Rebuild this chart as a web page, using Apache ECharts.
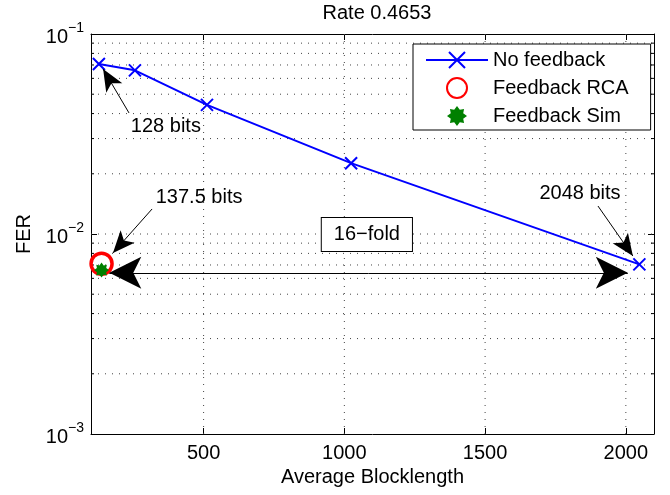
<!DOCTYPE html>
<html>
<head>
<meta charset="utf-8">
<script src="https://cdn.jsdelivr.net/npm/echarts@6/dist/echarts.min.js"></script>
<style>
  html, body { margin: 0; padding: 0; background: #fff; }
  #chart { width: 670px; height: 495px; }
</style>
</head>
<body>
<div id="chart"></div>
<script>
// data
const blocklength = [128, 256, 512, 1024, 2048];
const ferNoFeedback = [0.0708, 0.0658, 0.0442, 0.0226, 0.00705];
const rcaPoint = [137.5, 0.0071];
const simPoint = [137.5, 0.0066];

// axes
const xTicks = [500, 1000, 1500, 2000];
const yTicks = [0.001, 0.01, 0.1];
const yMinor = [0.002, 0.003, 0.004, 0.005, 0.006, 0.007, 0.008, 0.009,
                0.02, 0.03, 0.04, 0.05, 0.06, 0.07, 0.08, 0.09];

// annotations (data coordinates)
const noteTexts = ['128 bits', '137.5 bits', '2048 bits'];
const notePos = [[366, 0.0343], [484, 0.0153], [1837, 0.0160]];
const pointerFrom = [[235, 0.0403], [317, 0.01334], [1901, 0.0138]];
const pointerTo = [[143, 0.0668], [178, 0.00804], [2025, 0.00776]];
const foldFrom = [165, 0.0064];
const foldTo = [2007, 0.0064];
const foldText = '16−fold';
const foldPos = [1080, 0.00994];

const FONT = '"Liberation Sans", Arial, Helvetica, sans-serif';
const X_MIN = 100, X_MAX = 2100, Y_MIN = 0.001, Y_MAX = 0.1;

const chart = echarts.init(document.getElementById('chart'));

const dotted = { stroke: '#444', lineWidth: 1, lineDash: [1, 6] };

// dotted grid and minor ticks, drawn through the axes scales
function renderGrid(params, api) {
  const children = [];
  const line = (a, b, style) => ({
    type: 'line',
    shape: { x1: a[0], y1: a[1], x2: b[0], y2: b[1] },
    style: style
  });
  xTicks.forEach(x => {
    children.push(line(api.coord([x, Y_MIN]), api.coord([x, Y_MAX]), dotted));
  });
  yMinor.concat([0.01]).forEach(y => {
    children.push(line(api.coord([X_MIN, y]), api.coord([X_MAX, y]), dotted));
  });
  yMinor.forEach(y => {
    const l = api.coord([X_MIN, y]);
    const r = api.coord([X_MAX, y]);
    children.push(line(l, [l[0] + 3, l[1]], { stroke: '#000', lineWidth: 1 }));
    children.push(line([r[0] - 3, r[1]], r, { stroke: '#000', lineWidth: 1 }));
  });
  return { type: 'group', children: children };
}

const xMark = 'path://M0,0L10,10M10,0L0,10';
const starMark = 'path://M20,10L16.2,12.8L17.07,17.07L12.8,16.2L10,20L7.2,16.2L2.93,17.07L3.8,12.8L0,10L3.8,7.2L2.93,2.93L7.2,3.8L10,0L12.8,3.8L17.07,2.93L16.2,7.2Z';

const axisLineStyle = { color: '#000', width: 1 };
const tickStyle = { show: true, inside: true, length: 6, lineStyle: { color: '#000' } };

const option = {
  animation: false,
  textStyle: { fontFamily: FONT },
  title: {
    text: 'Rate 0.4653',
    left: 372,
    top: -2,
    textAlign: 'center',
    textStyle: { fontFamily: FONT, fontSize: 20, fontWeight: 'normal', color: '#000' }
  },
  grid: { left: 91, right: 16, top: 34, bottom: 61, show: false },
  legend: {
    left: 413,
    top: 44,
    orient: 'vertical',
    backgroundColor: '#fff',
    borderColor: '#000',
    borderWidth: 1,
    padding: [6, 22, 4, 12],
    itemWidth: 62,
    itemHeight: 20,
    itemGap: 7,
    textStyle: { fontFamily: FONT, fontSize: 20, color: '#000' },
    data: ['No feedback', 'Feedback RCA', 'Feedback Sim']
  },
  xAxis: [
    {
      type: 'value', min: X_MIN, max: X_MAX,
      name: 'Average Blocklength', nameLocation: 'middle', nameGap: 29,
      nameTextStyle: { fontFamily: FONT, fontSize: 20, color: '#000' },
      axisLine: { show: true, lineStyle: axisLineStyle },
      axisTick: Object.assign({ customValues: xTicks }, tickStyle),
      axisLabel: {
        customValues: xTicks, margin: 9, formatter: v => String(v),
        fontFamily: FONT, fontSize: 20, color: '#000'
      },
      splitLine: { show: false }
    },
    {
      type: 'value', min: X_MIN, max: X_MAX, position: 'top',
      axisLine: { show: true, lineStyle: axisLineStyle },
      axisTick: Object.assign({ customValues: xTicks }, tickStyle),
      axisLabel: { show: false },
      splitLine: { show: false }
    }
  ],
  yAxis: [
    {
      type: 'log', logBase: 10, min: Y_MIN, max: Y_MAX,
      name: 'FER', nameLocation: 'middle', nameGap: 57,
      nameTextStyle: { fontFamily: FONT, fontSize: 20, color: '#000' },
      axisLine: { show: true, lineStyle: axisLineStyle },
      axisTick: Object.assign({ customValues: yTicks }, tickStyle),
      axisLabel: {
        customValues: yTicks,
        margin: 7,
        formatter: v => '{b|10}{s|' + String(Math.round(Math.log10(v))).replace('-', '−') + '}',
        rich: {
          b: { fontFamily: FONT, fontSize: 20, color: '#000', lineHeight: 26, verticalAlign: 'bottom' },
          s: { fontFamily: FONT, fontSize: 14, color: '#000', lineHeight: 14, verticalAlign: 'top' }
        }
      },
      splitLine: { show: false }
    },
    {
      type: 'log', logBase: 10, min: Y_MIN, max: Y_MAX, position: 'right',
      axisLine: { show: true, lineStyle: axisLineStyle },
      axisTick: Object.assign({ customValues: yTicks }, tickStyle),
      axisLabel: { show: false },
      splitLine: { show: false }
    }
  ],
  series: [
    {
      name: 'grid',
      type: 'custom',
      z: 1,
      silent: true,
      renderItem: renderGrid,
      data: [[X_MIN, Y_MIN]]
    },
    {
      name: 'No feedback',
      type: 'line',
      z: 3,
      data: blocklength.map((x, i) => [x, ferNoFeedback[i]]),
      symbol: xMark,
      symbolSize: 12,
      lineStyle: { color: '#0000ff', width: 2 },
      itemStyle: { color: '#0000ff', borderColor: '#0000ff', borderWidth: 2 },
      emphasis: { disabled: true },
      markLine: {
        silent: true,
        animation: false,
        label: { show: false },
        lineStyle: { color: '#000', width: 1, type: 'solid', opacity: 1 },
        symbol: ['none', 'arrow'],
        symbolSize: [14, 22],
        data: pointerFrom.map((p, i) => [{ coord: p }, { coord: pointerTo[i] }]).concat([
          [
            { coord: foldFrom, symbol: 'arrow', symbolSize: [24, 32] },
            { coord: foldTo, symbol: 'arrow', symbolSize: [24, 32] }
          ]
        ])
      },
      markPoint: {
        silent: true,
        symbol: 'circle',
        symbolSize: 0,
        itemStyle: { color: 'transparent' },
        label: {
          show: true, position: 'inside', formatter: '{b}',
          fontFamily: FONT, fontSize: 20, color: '#000'
        },
        data: noteTexts.map((t, i) => ({ name: t, coord: notePos[i] })).concat([
          {
            name: foldText, coord: foldPos,
            label: {
              backgroundColor: '#fff', borderColor: '#000', borderWidth: 1,
              padding: [7, 12, 6, 12]
            }
          }
        ])
      }
    },
    {
      name: 'Feedback RCA',
      type: 'scatter',
      z: 4,
      data: [rcaPoint],
      symbol: 'circle',
      symbolSize: 21,
      itemStyle: { color: 'transparent', borderColor: '#ff0000', borderWidth: 3.5, opacity: 1 },
      emphasis: { disabled: true }
    },
    {
      name: 'Feedback Sim',
      type: 'scatter',
      z: 5,
      data: [simPoint],
      symbol: starMark,
      symbolSize: 15,
      itemStyle: { color: '#008000', opacity: 1 },
      emphasis: { disabled: true }
    }
  ]
};

chart.setOption(option);
</script>
</body>
</html>
